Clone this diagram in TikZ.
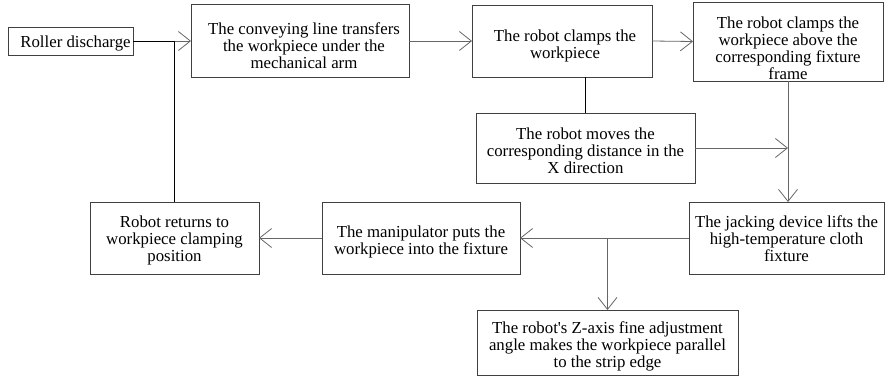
\documentclass[tikz,border=0pt]{standalone}
\usepackage{fontspec}
\setmainfont{Liberation Serif}
\usetikzlibrary{arrows.meta}
\tikzset{
 box/.style={draw=black!75, line width=0.8pt, inner sep=0pt, outer sep=0pt},
 lbl/.style={align=center, font=\fontsize{16.8}{17}\selectfont, inner sep=0pt},
 arr/.style={draw=black!60, line width=0.8pt, -{Straight Barb[length=12pt,width=19pt,line width=0.8pt]}},
 ln/.style={draw=black, line width=0.8pt},
 lng/.style={draw=black!60, line width=0.8pt}
}
\begin{document}
\begin{tikzpicture}[x=1pt,y=-1pt]
\useasboundingbox (0,0) rectangle (886,380);
\node[box, minimum width=125pt, minimum height=28pt,
  label={[lbl,xshift=5pt,yshift=-2pt]center:{Roller discharge}}] (roller) at (70.5,41) {};
\node[box, minimum width=218pt, minimum height=73pt,
  label={[lbl,xshift=4pt,yshift=-5pt]center:{The conveying line transfers\\the workpiece under the\\mechanical arm}}] (convey) at (300,41) {};
\node[box, minimum width=180pt, minimum height=72pt,
  label={[lbl,xshift=3pt,yshift=-5pt]center:{The robot clamps the\\workpiece}}] (clamp) at (562,41) {};
\node[box, minimum width=190pt, minimum height=79pt,
  label={[lbl,yshift=-7pt]center:{The robot clamps the\\workpiece above the\\corresponding fixture\\frame}}] (above) at (788,41.5) {};
\node[box, minimum width=219pt, minimum height=70pt,
  label={[lbl,yshift=-2.5pt]center:{The robot moves the\\corresponding distance in the\\X direction}}] (moves) at (585.5,148) {};
\node[box, minimum width=195pt, minimum height=72pt,
  label={[lbl,yshift=-1pt]center:{The jacking device lifts the\\high-temperature cloth\\fixture}}] (jack) at (786.5,238) {};
\node[box, minimum width=198pt, minimum height=72pt,
  label={[lbl,yshift=-3.5pt]center:{The manipulator puts the\\workpiece into the fixture}}] (manip) at (421,238) {};
\node[box, minimum width=169pt, minimum height=72pt,
  label={[lbl,yshift=-2pt]center:{Robot returns to\\workpiece clamping\\position}}] (returns) at (174.5,238) {};
\node[box, minimum width=261pt, minimum height=65pt,
  label={[lbl,yshift=-3.5pt]center:{The robot\textquotesingle s Z-axis fine adjustment\\angle makes the workpiece parallel\\to the strip edge}}] (zaxis) at (607.5,342.5) {};
% connectors
\coordinate (j1) at (returns.north |- roller.east);
\draw[ln] (roller.east) -- (j1);
\draw[ln] (returns.north) -- (j1);
\draw[arr] (j1) -- (convey.west);
\draw[arr] (convey.east) -- (clamp.west);
\draw[arr] (clamp.east) -- (above.west);
\draw[ln] (moves.north) -- (moves.north |- clamp.south);
\draw[arr] (above.south) -- (above.south |- jack.north);
\draw[arr] (moves.east) -- (above.south |- moves.east);
\draw[arr] (jack.west) -- (manip.east);
\draw[arr] (zaxis.north |- jack.west) -- (zaxis.north);
\draw[arr] (manip.west) -- (returns.east);
\end{tikzpicture}
\end{document}
